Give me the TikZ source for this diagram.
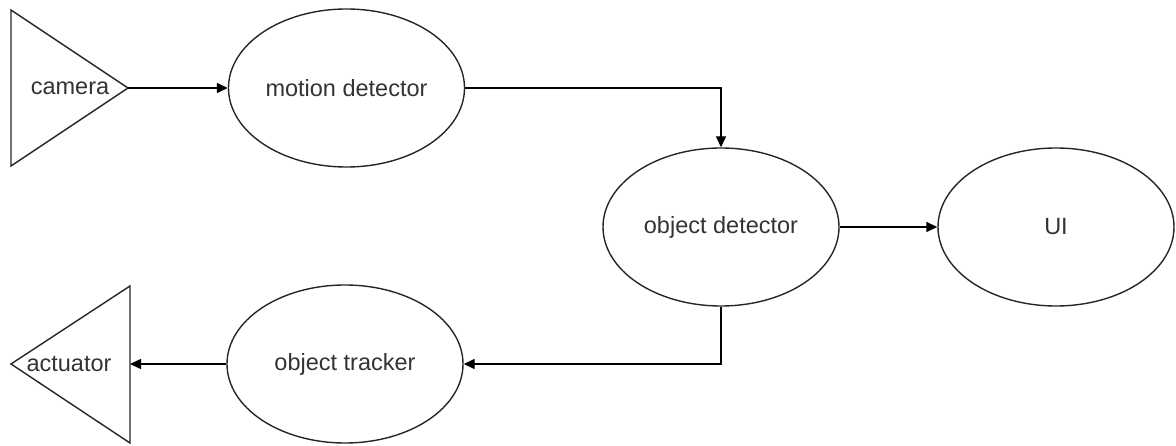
\documentclass[tikz,border=0pt]{standalone}
\usepackage{fontspec}
\setmainfont{Liberation Sans}
\usetikzlibrary{shapes.geometric,arrows.meta}
\begin{document}
\begin{tikzpicture}[x=1pt,y=-1pt,
  line width=1.4pt,
  proc/.style={draw=black!85,ellipse,minimum width=236pt,minimum height=158pt,inner sep=0pt,text=black!80,font=\fontsize{23.5}{27}\selectfont},
  lbl/.style={text=black!80,font=\fontsize{23.5}{27}\selectfont,inner sep=0pt},
  tri/.style={draw=black!85,line join=miter},
  conn/.style={draw=black,-{Triangle[length=11pt,width=10pt]}}]
\useasboundingbox (0,0) rectangle (1176,446);
% triangles
\coordinate (camTop) at (11,10);
\coordinate (camBot) at (11,166);
\coordinate (camTip) at (128,88);
\draw[tri] (camTop) -- (camTip) -- (camBot) -- cycle;
\node[lbl] (camera) at (70,88) {camera};
\coordinate (actTop) at (130,286);
\coordinate (actBot) at (130,443);
\coordinate (actTip) at (11,364);
\draw[tri] (actTop) -- (actTip) -- (actBot) -- cycle;
\node[lbl] (actuator) at (69,364) {actuator};
% ellipses
\node[proc] (motion) at (346.5,88) {motion detector};
\node[proc] (objdet) at (721,227) {object detector};
\node[proc] (ui) at (1056,227) {UI};
\node[proc] (tracker) at (345,364) {object tracker};
% connectors
\draw[conn] (camTip) -- (motion.west);
\draw[conn] (motion.east) -| (objdet.north);
\draw[conn] (objdet.east) -- (ui.west);
\draw[conn] (objdet.south) |- (tracker.east);
\draw[conn] (tracker.west) -- (actTop |- tracker.west);
\end{tikzpicture}
\end{document}
